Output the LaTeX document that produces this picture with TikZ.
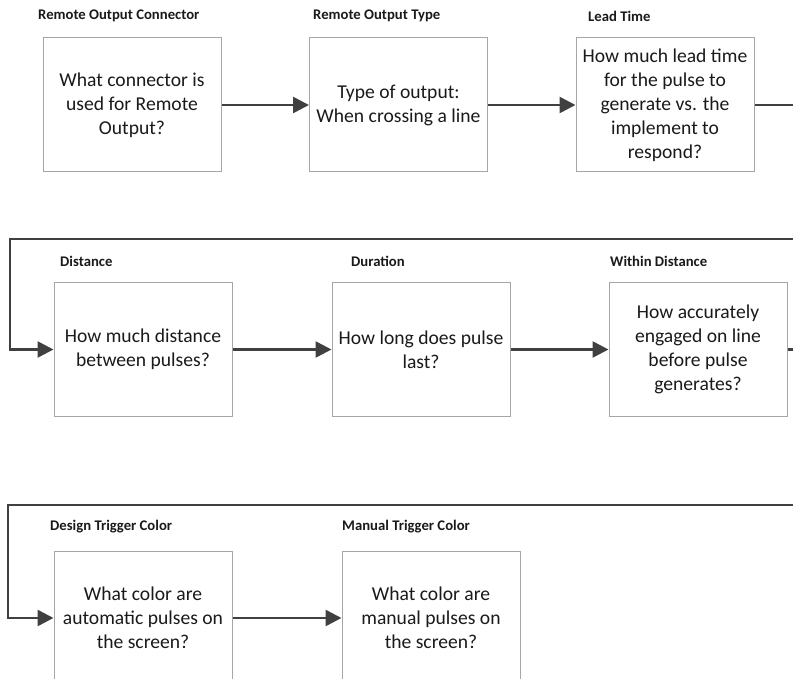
\documentclass[tikz,border=0pt]{standalone}
\usepackage{fontspec}
\setmainfont{Carlito}
\usetikzlibrary{arrows.meta}

\definecolor{linegray}{HTML}{404040}
\definecolor{boxgray}{HTML}{A6A6A6}
\definecolor{inkgray}{HTML}{1A1A1A}

\tikzset{
  stepbox/.style={draw=boxgray, line width=1pt, fill=white,
    minimum width=178pt, minimum height=134pt, inner sep=0pt,
    align=center, text=inkgray,
    font=\fontsize{19.6pt}{24pt}\selectfont},
  boxtitle/.style={anchor=west, inner sep=0pt, text=inkgray,
    font=\fontsize{14.7pt}{17pt}\selectfont\bfseries},
  conn/.style={draw=linegray, line width=2.6pt,
    -{Triangle[length=16pt,width=16pt]}},
  link/.style={draw=linegray, line width=2.6pt}
}

\begin{document}
\begin{tikzpicture}[x=1pt,y=-1pt]
  \useasboundingbox (0,0) rectangle (793,679);
  \clip (0,0) rectangle (793,679);

  % row 1
  \node[stepbox] (b1) at (132,105) {What connector is\\used for Remote\\Output?};
  \node[stepbox] (b2) at (398.5,105) {Type of output:\\When crossing a line};
  \node[stepbox] (b3) at (665,105) {How much lead time\\for the pulse to\\generate vs. the\\implement to\\respond?};
  \node[boxtitle] (t1) at (38,16) {Remote Output Connector};
  \node[boxtitle] (t2) at (313,16) {Remote Output Type};
  \node[boxtitle] (t3) at (588,16) {Lead Time};

  % row 2
  \node[stepbox] (b4) at (143,349.5) {How much distance\\between pulses?};
  \node[stepbox] (b5) at (421,349.5) {How long does pulse\\last?};
  \node[stepbox] (b6) at (698,349.5) {How accurately\\engaged on line\\before pulse\\generates?};
  \node[boxtitle] (t4) at (60,261) {Distance};
  \node[boxtitle] (t5) at (351,261) {Duration};
  \node[boxtitle] (t6) at (610,261) {Within Distance};

  % row 3
  \node[stepbox] (b7) at (143,618) {What color are\\automatic pulses on\\the screen?};
  \node[stepbox] (b8) at (431,618) {What color are\\manual pulses on\\the screen?};
  \node[boxtitle] (t7) at (50,527) {Design Trigger Color};
  \node[boxtitle] (t8) at (342,527) {Manual Trigger Color};

  % turn points of the wrap-around connectors
  \coordinate (r1) at (812,239);
  \coordinate (l1) at (10,239);
  \coordinate (r2) at (812,505);
  \coordinate (l2) at (8,505);

  % connectors
  \draw[conn] (b1) -- (b2);
  \draw[conn] (b2) -- (b3);
  \draw[conn] (b3.east) -- (b3.east -| r1) -- (r1) -- (l1) |- (b4);
  \draw[conn] (b4) -- (b5);
  \draw[conn] (b5) -- (b6);
  \draw[conn] (b6.east) -- (b6.east -| r2) -- (r2) -- (l2) |- (b7);
  \draw[conn] (b7) -- (b8);
\end{tikzpicture}
\end{document}
